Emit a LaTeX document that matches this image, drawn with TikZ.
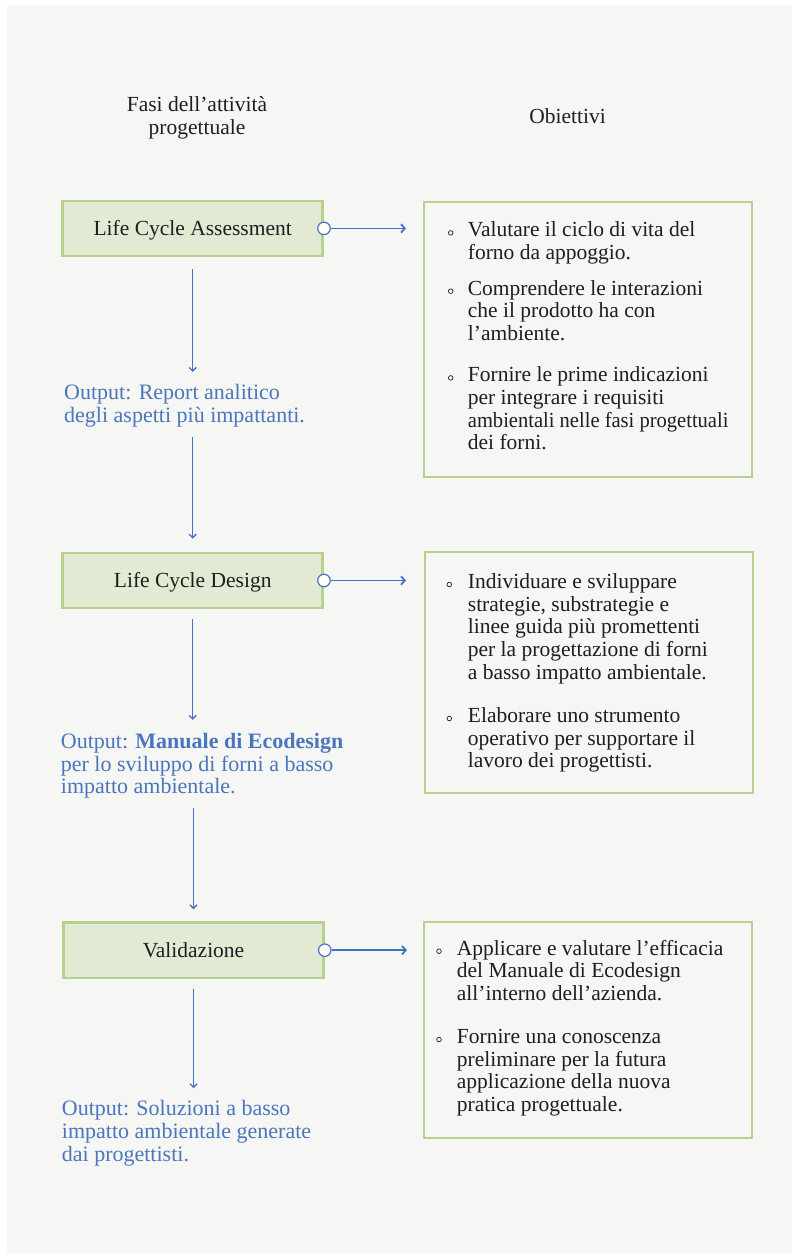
\documentclass[tikz,border=0pt]{standalone}
\usepackage{fontspec}
\setmainfont{Liberation Serif}
\usetikzlibrary{arrows.meta}

\definecolor{pagebg}{HTML}{F6F6F4}
\definecolor{leafgreen}{HTML}{B6D18F}
\definecolor{leaffill}{HTML}{E2EAD4}
\definecolor{linkblue}{HTML}{4472C4}
\definecolor{outblue}{HTML}{4A76BE}
\definecolor{inktext}{HTML}{1E1E1E}

% one text node per line: name, x, first baseline, style, lines
\newcommand\objlines[5]{%
  \foreach \t [count=\i] in {#5}
    \node[#4] (#1-\i) at (#2,#3+22.7*\i-22.7) {\t};}

\tikzset{
  phase/.style={draw=leafgreen, line width=2.5pt, fill=leaffill, inner sep=0pt,
    minimum width=260pt, minimum height=55.3pt, text=inktext,
    font=\fontsize{21.5}{22.7}\selectfont, text height=14.2pt, text depth=0pt},
  goalbox/.style={draw=leafgreen, line width=2pt, inner sep=0pt},
  goaltext/.style={anchor=base west, inner sep=0pt, text=inktext,
    font=\fontsize{21.5}{22.7}\selectfont},
  outtext/.style={anchor=base west, inner sep=0pt, text=outblue,
    font=\fontsize{22}{22.7}\selectfont},
  headtext/.style={anchor=base, inner sep=0pt, text=inktext,
    font=\fontsize{21.5}{22.7}\selectfont},
  dot/.style={circle, draw=inktext, line width=0.7pt, inner sep=0pt, minimum size=4.6pt},
  joint/.style={circle, draw=linkblue, fill=white, line width=1.2pt, inner sep=0pt, minimum size=12.5pt},
  hlink/.style={draw=linkblue, line width=1.6pt, -{Straight Barb[length=3.8pt,width=8.5pt,line width=1.8pt]}},
  vlink/.style={draw=linkblue, line width=1.2pt, -{Straight Barb[length=3.5pt,width=7pt,line width=1.3pt]}},
}

\begin{document}
\begin{tikzpicture}[x=1pt,y=-1pt]
  \useasboundingbox (0,0) rectangle (792,1253);
  \fill[white] (0,0) rectangle (792,1253);
  \fill[pagebg] (7,5) rectangle (792,1253);

  % column headings
  \node[headtext] (hfasi1) at (197,111.7) {Fasi dell’attività};
  \node[headtext] (hfasi2) at (197,134.5) {progettuale};
  \node[headtext] (hobj) at (567.5,123) {Obiettivi};

  % phases
  \node[phase] (lca) at (192.7,228.4) {Life Cycle Assessment};
  \node[phase] (lcd) at (192.7,580.5) {Life Cycle Design};
  \node[phase] (val) at (193.5,950.2) {Validazione};

  % objective boxes
  \node[goalbox, minimum width=328pt, minimum height=275.3pt] (g1) at (588,339.4) {};
  \node[goalbox, minimum width=328.3pt, minimum height=241pt] (g2) at (589.2,672.8) {};
  \node[goalbox, minimum width=328.3pt, minimum height=215.4pt] (g3) at (588.2,1030) {};

  % links from each phase to its objectives
  \node[joint] (j1) at (lca.east) {};
  \node[joint] (j2) at (lcd.east) {};
  \node[joint] (j3) at (val.east) {};
  \coordinate (t1) at (406,228.4);
  \coordinate (t2) at (406,580.5);
  \coordinate (t3) at (407,950.2);
  \draw[hlink] (j1) -- (t1);
  \draw[hlink] (j2) -- (t2);
  \draw[hlink] (j3) -- (t3);

  % objectives of the assessment
  \node[dot] (d11) at (450.7,232.9) {};
  \objlines{a1}{467.7}{236.7}{goaltext}{Valutare il ciclo di vita del, forno da appoggio.}
  \node[dot] (d12) at (450.7,291.2) {};
  \objlines{a2}{467.7}{295}{goaltext}{Comprendere le interazioni, che il prodotto ha con, l’ambiente.}
  \node[dot] (d13) at (450.7,377.9) {};
  \objlines{a3}{467.7}{381.7}{goaltext}{Fornire le prime indicazioni, per integrare i requisiti, \scalebox{0.955}[1]{ambientali nelle fasi progettuali}, dei forni.}

  % objectives of the design phase
  \node[dot] (d21) at (449.3,584.5) {};
  \objlines{b1}{467.7}{588.3}{goaltext}{Individuare e sviluppare, {strategie, substrategie e}, linee guida più promettenti, per la progettazione di forni, a basso impatto ambientale.}
  \node[dot] (d22) at (449.3,718.5) {};
  \objlines{b2}{467.7}{722.3}{goaltext}{Elaborare uno strumento, operativo per supportare il, lavoro dei progettisti.}

  % objectives of the validation
  \node[dot] (d31) at (439,951.2) {};
  \objlines{c1}{456.7}{955}{goaltext}{Applicare e valutare l’efficacia, del Manuale di Ecodesign, all’interno dell’azienda.}
  \node[dot] (d32) at (439,1039.5) {};
  \objlines{c2}{456.7}{1043.3}{goaltext}{Fornire una conoscenza, preliminare per la futura, applicazione della nuova, pratica progettuale.}

  % outputs
  \objlines{o1}{64}{399.3}{outtext}{Output: Report analitico, degli aspetti più impattanti.}
  \objlines{o2}{60.7}{748.3}{outtext}{{Output: \textbf{Manuale di Ecodesign}}, per lo sviluppo di forni a basso, impatto ambientale.}
  \objlines{o3}{61.7}{1115.7}{outtext}{Output: Soluzioni a basso, impatto ambientale generate, dai progettisti.}

  % flow down the phases
  \draw[vlink, shorten <=12pt, shorten >=12pt] (lca.south) -- (lca.south |- o1-1.north);
  \draw[vlink, shorten <=10pt, shorten >=13pt] (lcd.north |- o1-2.south) -- (lcd.north);
  \draw[vlink, shorten <=10pt, shorten >=13pt] (lcd.south) -- (lcd.south |- o2-1.north);
  \draw[vlink, shorten <=9pt, shorten >=12pt] (val.north |- o2-3.south) -- (val.north);
  \draw[vlink, shorten <=10pt, shorten >=12pt] (val.south) -- (val.south |- o3-1.north);
\end{tikzpicture}
\end{document}
